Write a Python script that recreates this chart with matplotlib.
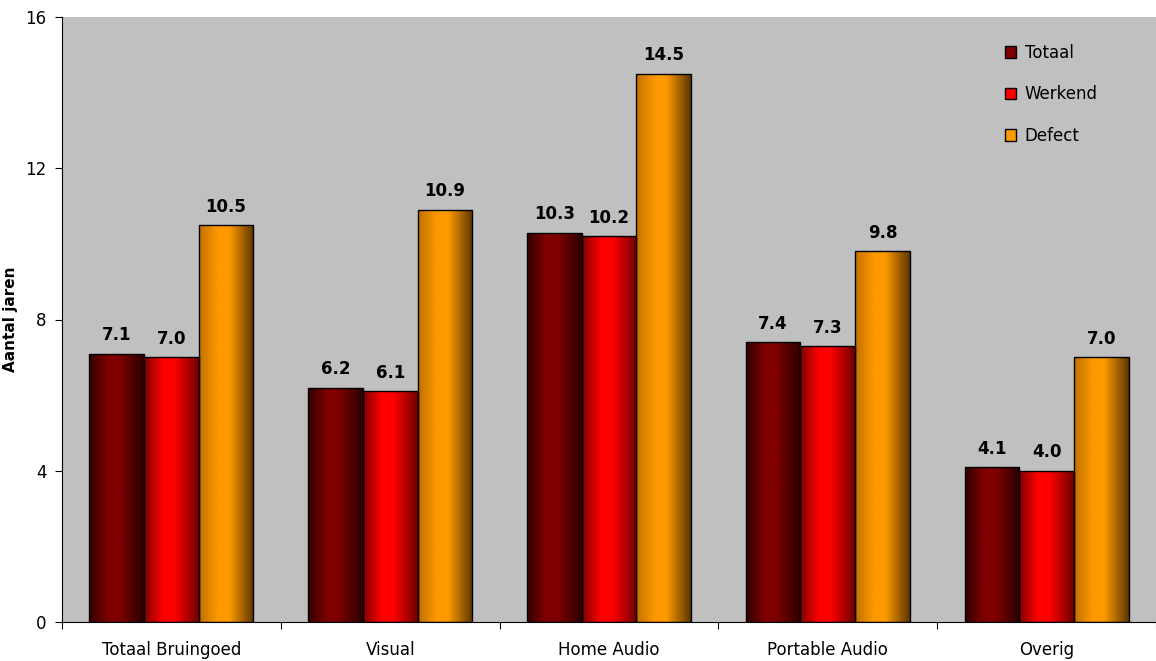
import numpy as np
import matplotlib
matplotlib.use("Agg")
import matplotlib.pyplot as plt
from matplotlib.colors import LinearSegmentedColormap
from matplotlib.patches import Patch

categories = ["Totaal Bruingoed", "Visual", "Home Audio", "Portable Audio", "Overig"]
series = ["Totaal", "Werkend", "Defect"]
totaal = [7.1, 6.2, 10.3, 7.4, 4.1]
werkend = [7.0, 6.1, 10.2, 7.3, 4.0]
defect = [10.5, 10.9, 14.5, 9.8, 7.0]

# edge / highlight / dark-edge colours for the cylinder-like gradient
gradients = [
    ("#300000", "#800000", "#2a0000"),
    ("#800000", "#ff0000", "#700000"),
    ("#c07000", "#ff9900", "#5c3600"),
]
base_colors = ["#800000", "#ff0000", "#ff9900"]

fig = plt.figure(figsize=(11.56, 6.61), dpi=100)
ax = fig.add_axes([62 / 1156, 39 / 661, 1094 / 1156, 605 / 661])
ax.set_facecolor("#c0c0c0")

x = np.arange(len(categories))
width = 0.25
grad = np.linspace(0, 1, 256).reshape(1, -1)

for i, (name, vals) in enumerate(zip(series, [totaal, werkend, defect])):
    left_c, mid_c, right_c = gradients[i]
    cmap = LinearSegmentedColormap.from_list(
        name, [(0, left_c), (0.35, mid_c), (0.55, mid_c), (1, right_c)])
    bars = ax.bar(x + (i - 1) * width, vals, width, color="none",
                  edgecolor="black", linewidth=1.0, zorder=3)
    for b, v in zip(bars, vals):
        x0 = b.get_x()
        im = ax.imshow(grad, cmap=cmap, aspect="auto",
                       extent=[x0, x0 + b.get_width(), 0, v], zorder=2)
        im.set_clip_path(b)
        ax.text(b.get_x() + b.get_width() / 2, v + 0.25, f"{v:.1f}",
                ha="center", va="bottom", fontsize=12, fontweight="bold")

ax.set_xlim(-0.5, len(categories) - 0.5)
ax.set_ylim(0, 16)
ax.set_yticks([0, 4, 8, 12, 16])
ax.set_xticks(np.arange(len(categories) + 1) - 0.5)
ax.set_xticklabels([])
ax.set_xticks(x, minor=True)
ax.set_xticklabels(categories, minor=True)
ax.tick_params(axis="x", which="minor", length=0, pad=14, labelsize=12)
ax.tick_params(axis="x", which="major", length=5, direction="out")
ax.tick_params(axis="y", length=5, direction="out", labelsize=12, pad=6)
ax.set_ylabel("Aantal jaren", fontsize=11, fontweight="bold")
ax.yaxis.set_label_coords(-0.04, 0.5)

for s in ["top", "right"]:
    ax.spines[s].set_visible(False)
ax.spines["left"].set_color("black")
ax.spines["bottom"].set_color("black")

handles = [Patch(facecolor=c, edgecolor="black", linewidth=1.0) for c in base_colors]
ax.legend(handles, series, loc="upper left", bbox_to_anchor=(0.848, 0.98),
          frameon=False, fontsize=12, handlelength=0.7, handleheight=0.7,
          labelspacing=1.4, handletextpad=0.5)

fig.savefig("out.png", dpi=100)
